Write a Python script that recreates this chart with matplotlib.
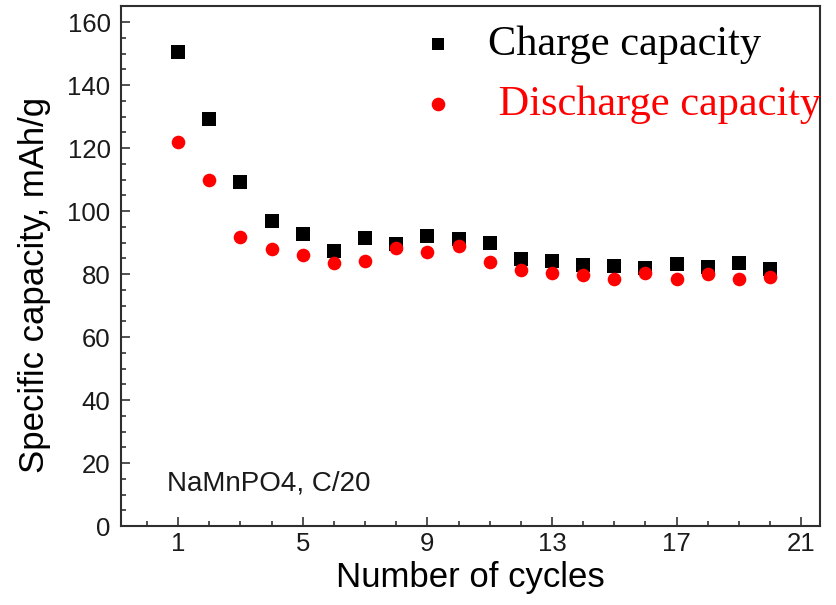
import matplotlib
matplotlib.use("Agg")
import matplotlib.pyplot as plt
from matplotlib.ticker import MultipleLocator, FixedLocator

# Cycling data for NaMnPO4 at C/20
cycles = list(range(1, 21))
charge_capacity = [150.6, 129.2, 109.2, 96.8, 92.6, 87.2, 91.4, 89.5, 92.0, 91.1,
                   89.8, 84.8, 84.1, 82.8, 82.4, 82.0, 83.1, 82.3, 83.5, 81.5]
discharge_capacity = [121.9, 109.8, 91.8, 87.9, 86.0, 83.6, 84.1, 88.2, 87.0, 88.9,
                      83.9, 81.2, 80.4, 79.8, 78.5, 80.4, 78.5, 80.0, 78.4, 79.0]

x_ticks = [1, 5, 9, 13, 17, 21]
y_ticks = [0, 20, 40, 60, 80, 100, 120, 140, 160]

sans = ["Liberation Sans", "DejaVu Sans"]
serif = ["Liberation Serif", "DejaVu Serif"]

fig = plt.figure(figsize=(8.36, 6.05), dpi=100)
ax = fig.add_axes([121 / 836, 79 / 605, 699 / 836, 520 / 605])

ax.scatter(cycles, charge_capacity, marker="s", s=9.4 ** 2, color="black",
           linewidths=0, label="Charge capacity", zorder=3)
ax.scatter(cycles, discharge_capacity, marker="o", s=9.8 ** 2, color="#ff0000",
           linewidths=0, label=" Discharge capacity", zorder=4)

ax.set_xlim(-0.83, 21.6)
ax.set_ylim(0, 165.1)

ax.xaxis.set_major_locator(FixedLocator(x_ticks))
ax.xaxis.set_minor_locator(MultipleLocator(1))
ax.yaxis.set_major_locator(FixedLocator(y_ticks))
ax.yaxis.set_minor_locator(MultipleLocator(5))

ax.tick_params(axis="both", which="both", direction="in", top=False, right=False,
               color="#222222", width=1.1)
ax.tick_params(axis="both", which="major", length=6.5, labelsize=18.5)
ax.tick_params(axis="both", which="minor", length=3.4)
ax.tick_params(axis="x", which="major", pad=4.5)
ax.tick_params(axis="y", which="major", pad=7.5)
for lab in ax.get_xticklabels() + ax.get_yticklabels():
    lab.set_family(sans)
    lab.set_color("#1a1a1a")

for sp in ax.spines.values():
    sp.set_linewidth(1.5)
    sp.set_color("#2e2e2e")

ax.set_xlabel("Number of cycles", fontsize=25, family=sans, color="black")
ax.set_ylabel("Specific capacity, mAh/g", fontsize=25, family=sans, color="black")
ax.xaxis.set_label_coords(0.5, -0.068)
ax.yaxis.set_label_coords(-0.10, 0.463)

ax.text(0.066, 0.069, "NaMnPO4, C/20", transform=ax.transAxes, fontsize=20,
        family=sans, color="#1a1a1a", va="baseline", ha="left")

leg = ax.legend(loc="upper left", bbox_to_anchor=(0.417, 0.963), frameon=False,
                prop={"family": serif, "size": 30.5}, borderaxespad=0, borderpad=0,
                handlelength=1.2, handletextpad=0.58, labelspacing=0.51,
                labelcolor=["black", "#ff0000"])
leg.legend_handles[0].set_sizes([8.6 ** 2])
leg.legend_handles[1].set_sizes([9.8 ** 2])

fig.savefig("out.png", dpi=100)
